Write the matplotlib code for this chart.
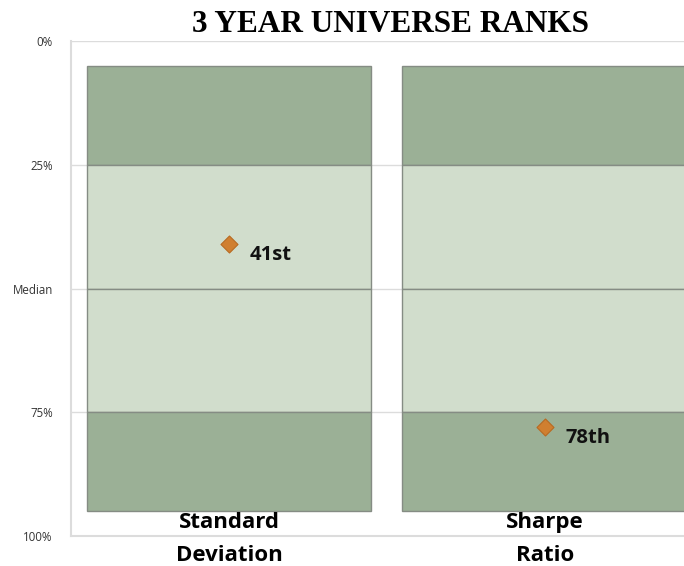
import matplotlib.pyplot as plt
import numpy as np

# chart data
categories = ["Standard\nDeviation", "Sharpe\nRatio"]
band_edges = [5, 25, 50, 75, 95]          # percentile band boundaries
band_colors = ["#9bb096", "#d1ddcc", "#d1ddcc", "#9bb096"]
ranks = [41, 78]
rank_labels = ["41st", "78th"]
yticks = [0, 25, 50, 75, 100]
ytick_labels = ["0%", "25%", "Median", "75%", "100%"]

fig = plt.figure(figsize=(6.84, 5.66), dpi=100)
ax = fig.add_axes([71 / 684, 30 / 566, 632 / 684, 495 / 566])

x = np.arange(len(categories))
width = 285 / 316

for i in range(len(band_colors)):
    bottom = band_edges[i]
    height = band_edges[i + 1] - band_edges[i]
    ax.bar(x, height, bottom=bottom, width=width, color=band_colors[i],
           edgecolor="#858c84", linewidth=1.0, zorder=2)

ax.scatter(x, ranks, marker="D", s=75, color="#d07f30", edgecolor="#b86a22",
           linewidth=0.8, zorder=4)
for xi, r, lab in zip(x, ranks, rank_labels):
    ax.annotate(lab, (xi, r), xytext=(15, -8), textcoords="offset points",
                fontsize=14.5, fontweight="bold", va="center", ha="left",
                family="Open Sans", color="#111111", zorder=5)

ax.set_xlim(-0.5, len(categories) - 0.5)
ax.set_ylim(100, 0)
ax.set_yticks(yticks)
ax.set_yticklabels(ytick_labels, fontsize=8.3, family="Open Sans", color="#333333")
ax.tick_params(axis="y", length=0, pad=13)
ax.set_xticks([])
ax.yaxis.grid(True, color="#dcdcdc", linewidth=1.0, zorder=0)
ax.set_axisbelow(True)

for side in ["top", "right"]:
    ax.spines[side].set_visible(False)
for side in ["left", "bottom"]:
    ax.spines[side].set_color("#dcdcdc")
    ax.spines[side].set_linewidth(1.5)

for xi, cat in zip(x, categories):
    ax.text(xi, 1.0 - (512 - 41) / 495, cat, transform=ax.get_xaxis_transform(),
            ha="center", va="top", fontsize=16, fontweight="bold",
            family="Open Sans", linespacing=1.75, clip_on=False, zorder=6)

fig.text(390 / 684, 1 - 24 / 566, "3 YEAR UNIVERSE RANKS", ha="center", va="center",
         fontsize=22.5, fontweight="bold", family="Liberation Serif")

fig.savefig("out.png", dpi=100)
